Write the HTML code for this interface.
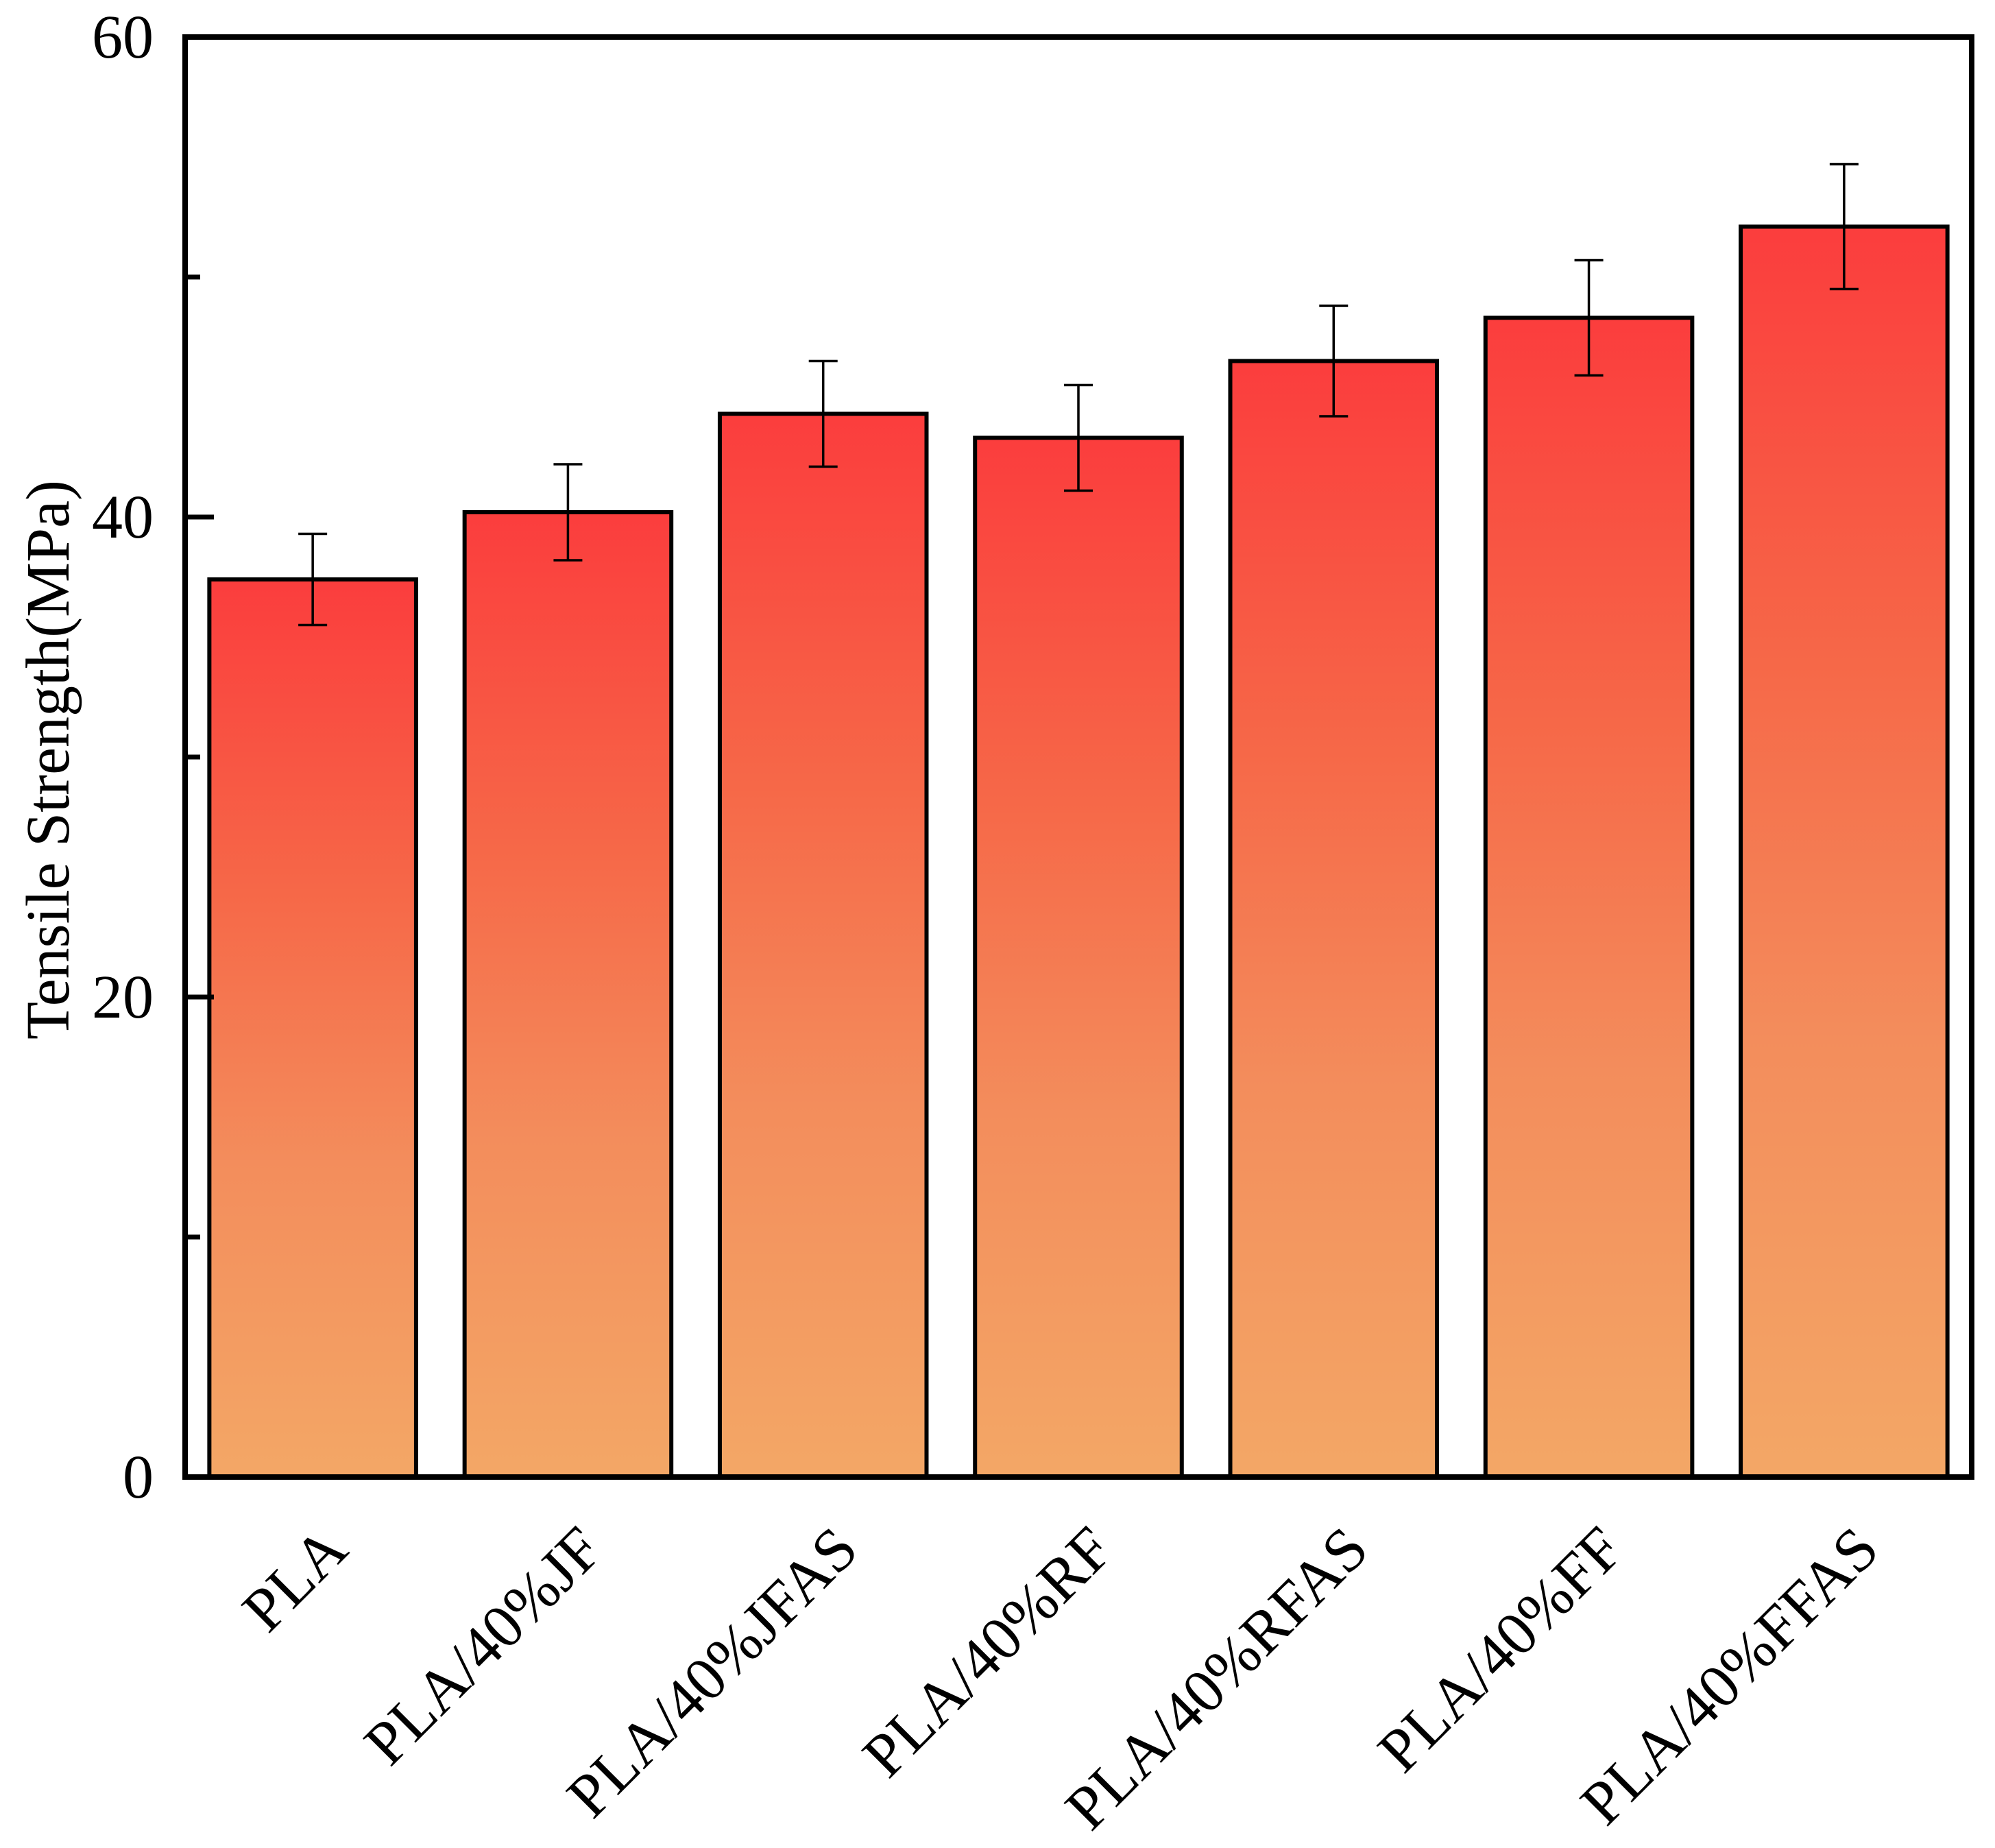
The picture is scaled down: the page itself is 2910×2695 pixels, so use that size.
<!DOCTYPE html>
<html><head><meta charset="utf-8"><style>
html,body{margin:0;padding:0;background:#fff;}
svg, svg text{display:block;font-family:"Liberation Serif","Times New Roman",Times,serif;}
</style></head><body>
<svg id="chart" width="2910" height="2695" viewBox="0 0 2910 2695" xmlns="http://www.w3.org/2000/svg" font-family="Liberation Serif, Times New Roman, serif">
<defs>
<linearGradient id="barGrad" x1="0" y1="0" x2="0" y2="1">
<stop offset="0" stop-color="#fb3d3d"/>
<stop offset="0.35" stop-color="#f66848"/>
<stop offset="0.65" stop-color="#f38d5c"/>
<stop offset="1" stop-color="#f3a766"/>
</linearGradient>
</defs>
<g id="bars"></g>
<g id="axes"></g>
<text x="0" y="0" transform="translate(100,1108) rotate(-90)" text-anchor="middle" font-size="90">Tensile Strength(MPa)</text>
</svg>
<script>
const categories = ["PLA","PLA/40%JF","PLA/40%JFAS","PLA/40%RF","PLA/40%RFAS","PLA/40%FF","PLA/40%FFAS"];
const values = [37.4, 40.2, 44.3, 43.3, 46.5, 48.3, 52.1];
const errors = [1.9, 2.0, 2.2, 2.2, 2.3, 2.4, 2.6];
const majorTicks = [0, 20, 40, 60];
const minorTicks = [10, 30, 50];

const L=270, R=2876, T=54, B=2154, yMin=0, yMax=60;
const NS="http://www.w3.org/2000/svg";
function y(v){return B-(v-yMin)/(yMax-yMin)*(B-T);}
const slot=(R-L)/categories.length;
function xc(i){return L+slot*(i+0.5);}
const bw=slot*0.81;
function mk(tag,attrs,parent){const e=document.createElementNS(NS,tag);for(const k in attrs)e.setAttribute(k,attrs[k]);parent.appendChild(e);return e;}
const bars=document.getElementById('bars'), axes=document.getElementById('axes');

categories.forEach((c,i)=>{
  const cx=xc(i), top=y(values[i]);
  const r=mk('rect',{x:cx-bw/2,y:top,width:bw,height:B-top,fill:'url(#barGrad)',stroke:'#000','stroke-width':6},bars);
  
  
  const g=mk('g',{stroke:'#000','stroke-width':3.5},bars);
  
  
  const yt=y(values[i]+errors[i]), yb=y(values[i]-errors[i]);
  mk('line',{x1:cx,x2:cx,y1:yt,y2:yb},g);
  mk('line',{x1:cx-21,x2:cx+21,y1:yt,y2:yt},g);
  mk('line',{x1:cx-21,x2:cx+21,y1:yb,y2:yb},g);
  const t=mk('text',{x:0,y:0,transform:`translate(${cx+55},${B+110}) rotate(-45)`,'text-anchor':'end','font-size':90},axes);
  t.textContent=c;
  
  
});

majorTicks.forEach(v=>{
  const ln=mk('line',{x1:L,x2:L+42,y1:y(v),y2:y(v),stroke:'#000','stroke-width':7},axes);
  
  
  const t=mk('text',{x:224,y:y(v)+30,'text-anchor':'end','font-size':90},axes);
  t.textContent=v;
  
  
});
minorTicks.forEach(v=>{
  const ln=mk('line',{x1:L,x2:L+22,y1:y(v),y2:y(v),stroke:'#000','stroke-width':7},axes);
  
  
});
const frame=mk('rect',{x:L,y:T,width:R-L,height:B-T,fill:'none',stroke:'#000','stroke-width':8},axes);


</script>
</body></html>
